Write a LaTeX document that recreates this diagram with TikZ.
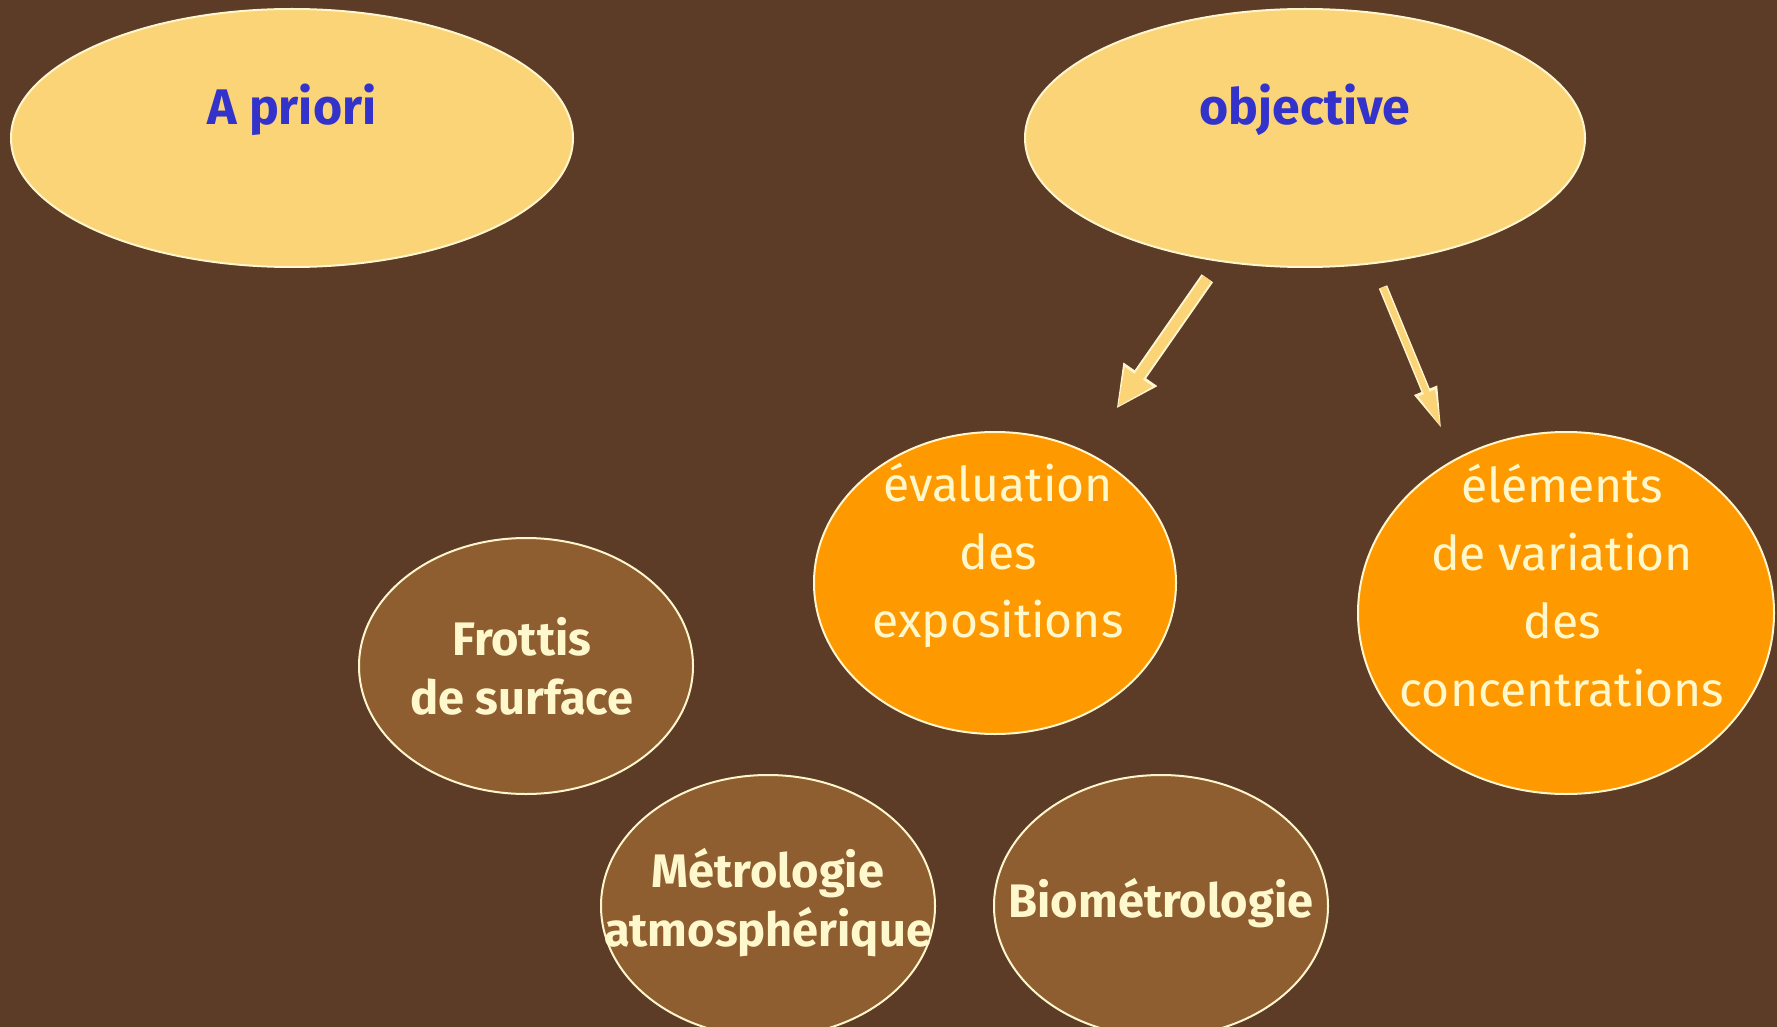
\documentclass[tikz,border=0pt]{standalone}
\usepackage{fontspec}
\setmainfont{Fira Sans}
\usetikzlibrary{shapes.geometric,arrows.meta,calc}
\definecolor{bgbrown}{RGB}{92,60,38}
\definecolor{paleyellow}{RGB}{250,212,118}
\definecolor{edgecream}{RGB}{255,246,205}
\definecolor{titleblue}{RGB}{51,51,204}
\definecolor{mainorange}{RGB}{255,153,0}
\definecolor{midbrown}{RGB}{142,94,48}
\definecolor{textcream}{RGB}{255,248,205}
\tikzset{
  blob/.style={ellipse,draw=edgecream,line width=2pt,inner sep=0pt},
  paleblob/.style={blob,fill=paleyellow},
  orangeblob/.style={blob,fill=mainorange},
  brownblob/.style={blob,fill=midbrown},
  titletxt/.style={text=titleblue,font=\bfseries\fontsize{50}{60}\selectfont},
  lighttxt/.style={text=textcream,align=center,font=\fontsize{48}{68}\selectfont},
  boldtxt/.style={text=textcream,align=center,font=\bfseries\fontsize{47}{59}\selectfont},
}
\begin{document}
\begin{tikzpicture}[x=1pt,y=-1pt]
    %% Background
    \useasboundingbox (0,0) rectangle (1777,1027);
    \clip (0,0) rectangle (1777,1027);
    \fill[bgbrown] (0,0) rectangle (1777,1027);
    %% Top ellipses
    \node[paleblob,minimum width=562pt,minimum height=258pt] (apriori) at (292,138) {};
    \node[titletxt] (apriori-t) at ([yshift=28pt]apriori.center) {A priori};
    \node[paleblob,minimum width=560pt,minimum height=258pt] (obj) at (1305,138) {};
    \node[titletxt] (obj-t) at ([yshift=28pt]obj.center) {objective};
    %% Orange ellipses
    \node[orangeblob,minimum width=362pt,minimum height=302pt] (eval) at (995,583) {};
    \node[lighttxt] (eval-t) at ([xshift=3pt,yshift=28pt]eval.center) {évaluation\\des\\expositions};
    \node[orangeblob,minimum width=416pt,minimum height=362pt] (elem) at (1566,613) {};
    \node[lighttxt] (elem-t) at ([xshift=-4pt,yshift=27pt]elem.center) {éléments\\de variation\\des\\concentrations};
    %% Brown ellipses
    \node[brownblob,minimum width=334pt,minimum height=256pt] (frottis) at (526,666) {};
    \node[boldtxt] (frottis-t) at ([xshift=-4pt]frottis.center) {Frottis\\de surface};
    \node[brownblob,minimum width=334pt,minimum height=262pt] (metro) at (768,906) {};
    \node[boldtxt] (metro-t) at ([yshift=3pt]metro.center) {Métrologie\\atmosphérique};
    \node[brownblob,minimum width=334pt,minimum height=262pt] (bio) at (1161,906) {};
    \node[boldtxt] (bio-t) at ([yshift=3pt]bio.center) {Biométrologie};
    %% Arrows
    \coordinate (l-start) at ($(obj)!171pt!(eval)$);
    \coordinate (l-end) at ($(obj)!330pt!(eval)$);
    \coordinate (r-start) at ($(obj.south)+(78,19)$);
    \coordinate (r-end) at ($(elem.north)+(-124,-1)$);
    \draw[edgecream,line width=14pt,-{Triangle[length=42pt,width=38pt]}] (l-start) -- (l-end);
    \draw[paleyellow,line width=10pt,shorten >=2pt,-{Triangle[length=37pt,width=31pt]}] (l-start) -- (l-end);
    \draw[edgecream,line width=9pt,-{Triangle[length=43pt,width=22pt]}] (r-start) -- (r-end);
    \draw[paleyellow,line width=6pt,shorten >=2pt,-{Triangle[length=38pt,width=16pt]}] (r-start) -- (r-end);
\end{tikzpicture}
\end{document}
